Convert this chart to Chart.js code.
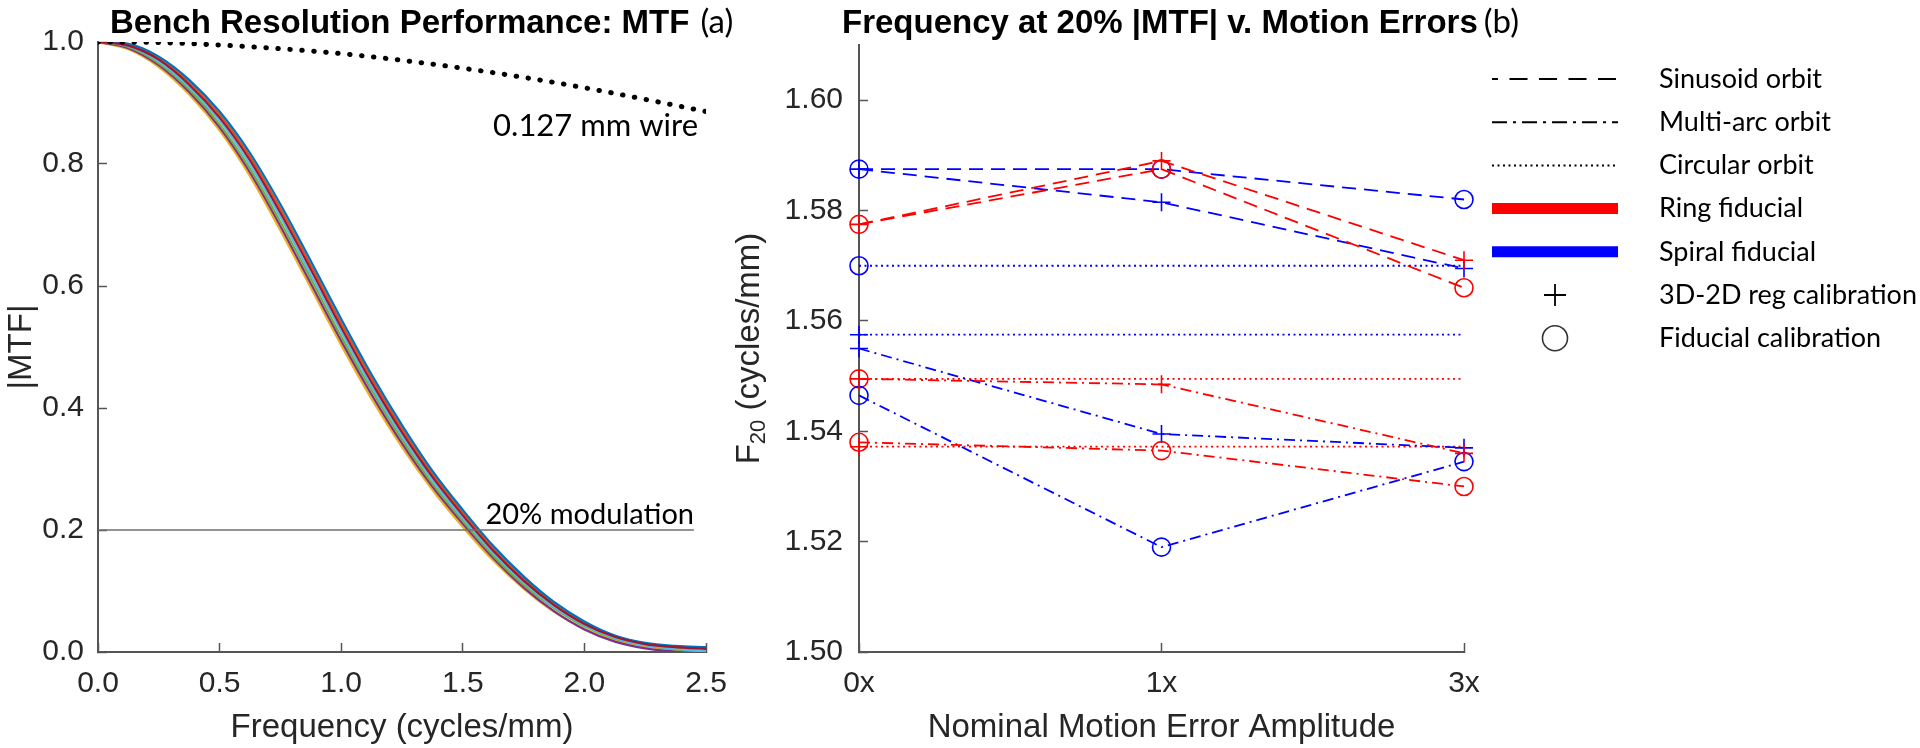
<!DOCTYPE html>
<html>
<head>
<meta charset="utf-8">
<title>Bench resolution: MTF and F20 v. motion errors</title>
<script src="https://cdn.jsdelivr.net/npm/chart.js@4.4.1/dist/chart.umd.min.js"></script>
<style>
  html, body { margin: 0; padding: 0; background: #fff; }
  #wrap { position: relative; width: 1920px; height: 748px; overflow: hidden; }
  canvas { position: absolute; left: 0; top: 0; }
</style>
</head>
<body>
<div id="wrap">
  <canvas id="mtfChart" width="1920" height="748"></canvas>
  <canvas id="f20Chart" width="1920" height="748"></canvas>
</div>
<script>
// ---------- panel (a): MTF curves ----------
var freq = [0, 0.125, 0.25, 0.375, 0.5, 0.625, 0.75, 0.875, 1.0, 1.125, 1.25,
            1.375, 1.5, 1.625, 1.75, 1.875, 2.0, 2.125, 2.25, 2.375, 2.5];
var mtfBlue   = [1.000, 0.997, 0.976, 0.938, 0.886, 0.818, 0.734, 0.641, 0.546, 0.455, 0.372,
                 0.297, 0.233, 0.174, 0.124, 0.082, 0.050, 0.027, 0.015, 0.010, 0.008];
var mtfOrange = [1.000, 0.996, 0.974, 0.934, 0.881, 0.812, 0.727, 0.634, 0.539, 0.449, 0.366,
                 0.292, 0.229, 0.170, 0.121, 0.080, 0.048, 0.026, 0.014, 0.008, 0.006];
var mtfRed    = [1.000, 0.994, 0.971, 0.930, 0.876, 0.806, 0.720, 0.627, 0.532, 0.442, 0.360,
                 0.287, 0.224, 0.166, 0.117, 0.077, 0.046, 0.025, 0.013, 0.008, 0.005];
var mtfCyan   = [1.000, 0.993, 0.968, 0.926, 0.871, 0.799, 0.713, 0.619, 0.525, 0.435, 0.354,
                 0.282, 0.219, 0.162, 0.114, 0.074, 0.044, 0.023, 0.011, 0.005, 0.001];
var mtfGreen  = [1.000, 0.992, 0.965, 0.922, 0.865, 0.792, 0.705, 0.612, 0.517, 0.429, 0.348,
                 0.276, 0.215, 0.158, 0.110, 0.072, 0.042, 0.022, 0.011, 0.004, 0.001];
var mtfPurple = [1.000, 0.990, 0.962, 0.918, 0.860, 0.786, 0.698, 0.604, 0.510, 0.422, 0.342,
                 0.271, 0.210, 0.154, 0.106, 0.067, 0.037, 0.017, 0.006, 0.001, 0.000];
var mtfYellow = [1.000, 0.988, 0.959, 0.914, 0.855, 0.780, 0.691, 0.597, 0.503, 0.415, 0.336,
                 0.266, 0.205, 0.150, 0.104, 0.066, 0.038, 0.020, 0.009, 0.004, 0.001];
var wireFreq  = [0, 0.25, 0.5, 0.75, 1.0, 1.25, 1.5, 1.75, 2.0, 2.25, 2.5];
var wireMtf   = [1.000, 0.999, 0.995, 0.989, 0.981, 0.970, 0.957, 0.942, 0.925, 0.906, 0.886];
var modFreq   = [0, 2.45];
var modLevel  = [0.2, 0.2];
var mtfTicks  = [0, 0.2, 0.4, 0.6, 0.8, 1.0];

// ---------- panel (b): F20 per motion amplitude ----------
var amplitudes    = ['0x', '1x', '3x'];
var sinRingReg    = [1.5775, 1.5890, 1.5710];
var sinRingFid    = [1.5775, 1.5875, 1.5660];
var sinSpiralReg  = [1.5875, 1.5815, 1.5695];
var sinSpiralFid  = [1.5875, 1.5875, 1.5820];
var arcRingReg    = [1.5495, 1.5485, 1.5360];
var arcRingFid    = [1.5380, 1.5365, 1.5300];
var arcSpiralReg  = [1.5550, 1.5395, 1.5370];
var arcSpiralFid  = [1.5465, 1.5190, 1.5345];
var circRingReg   = [1.5372, 1.5372, 1.5372];
var circRingFid   = [1.5495, 1.5495, 1.5495];
var circSpiralReg = [1.5575, 1.5575, 1.5575];
var circSpiralFid = [1.5700, 1.5700, 1.5700];
var legendLabels  = ['Sinusoid orbit', 'Multi-arc orbit', 'Circular orbit', 'Ring fiducial',
                     'Spiral fiducial', '3D-2D reg calibration', 'Fiducial calibration'];

var AXIS = '#555555';
var INK = '#262626';
var TICK_FONT = { family: 'Liberation Sans', size: 30 };
var LABEL_FONT = { family: 'Liberation Sans', size: 33 };
var NOTE_FONT = 'Lato';

Chart.defaults.font.family = 'Liberation Sans';
Chart.defaults.color = INK;

function xy(xs, ys) {
  return xs.map(function (x, i) { return { x: x, y: ys[i] }; });
}

function mtfCurve(values, color) {
  return {
    data: xy(freq, values),
    borderColor: color,
    borderWidth: 2.2,
    pointRadius: 0,
    cubicInterpolationMode: 'monotone',
    fill: false
  };
}

// pins the chart area to the pixel box of the original figure
function fixWidth(w) {
  return function (scale) { scale.width = w; scale.paddingTop = 0; scale.paddingBottom = 0; };
}
function fixHeight(h) {
  return function (scale) { scale.height = h; scale.paddingLeft = 0; scale.paddingRight = 0; };
}

function drawTitle(ctx, x, y, text, tag, gap) {
  ctx.save();
  ctx.fillStyle = '#000';
  ctx.textAlign = 'left';
  ctx.textBaseline = 'alphabetic';
  ctx.font = 'bold 33px "Liberation Sans"';
  ctx.fillText(text, x, y);
  var w = ctx.measureText(text).width;
  ctx.font = '33px ' + NOTE_FONT;
  ctx.fillText(tag, x + w + gap, y);
  ctx.restore();
}

var mtfNotes = {
  id: 'mtfNotes',
  afterDraw: function (chart) {
    var ctx = chart.ctx, area = chart.chartArea, ys = chart.scales.y;
    drawTitle(ctx, 110, 33, 'Bench Resolution Performance: MTF', '(a)', 11);
    ctx.save();
    ctx.fillStyle = '#000';
    ctx.textAlign = 'right';
    ctx.textBaseline = 'alphabetic';
    ctx.font = '31px ' + NOTE_FONT;
    ctx.fillText('0.127 mm wire', area.right - 8, ys.getPixelForValue(0.846));
    ctx.font = '29px ' + NOTE_FONT;
    ctx.fillText('20% modulation', area.right - 12, ys.getPixelForValue(0.2) - 6);
    ctx.restore();
  }
};

new Chart(document.getElementById('mtfChart'), {
  type: 'line',
  data: {
    datasets: [
      {
        data: xy(wireFreq, wireMtf),
        borderColor: '#000',
        borderWidth: 5,
        borderDash: [0.5, 11.5],
        borderCapStyle: 'round',
        pointRadius: 0,
        cubicInterpolationMode: 'monotone',
        fill: false
      },
      {
        data: xy(modFreq, modLevel),
        borderColor: '#6e6e6e',
        borderWidth: 1.5,
        pointRadius: 0,
        fill: false
      },
      mtfCurve(mtfRed, '#A2142F'),
      mtfCurve(mtfBlue, '#0072BD'),
      mtfCurve(mtfOrange, '#D95319'),
      mtfCurve(mtfCyan, '#4DBEEE'),
      mtfCurve(mtfGreen, '#77AC30'),
      mtfCurve(mtfPurple, '#7E2F8E'),
      mtfCurve(mtfYellow, '#EDB120')
    ]
  },
  options: {
    responsive: false,
    animation: false,
    devicePixelRatio: 1,
    events: [],
    layout: { padding: { left: 0, right: 1214, top: 42, bottom: 0 } },
    plugins: { legend: { display: false }, tooltip: { enabled: false } },
    scales: {
      x: {
        type: 'linear', min: 0, max: 2.5,
        afterFit: fixHeight(96),
        border: { color: AXIS, width: 2 },
        grid: { drawOnChartArea: false, tickLength: -9, color: AXIS, tickWidth: 1.5 },
        ticks: {
          stepSize: 0.5, padding: 23, font: TICK_FONT, color: INK, maxRotation: 0,
          callback: function (v) { return v.toFixed(1); }
        },
        title: { display: true, text: 'Frequency (cycles/mm)', font: LABEL_FONT, color: INK, padding: 0 }
      },
      y: {
        type: 'linear', min: 0, max: 1,
        afterFit: fixWidth(98),
        afterBuildTicks: function (scale) {
          scale.ticks = mtfTicks.map(function (v) { return { value: v }; });
        },
        border: { color: AXIS, width: 2 },
        grid: { drawOnChartArea: false, tickLength: -9, color: AXIS, tickWidth: 1.5 },
        ticks: {
          padding: 23, font: TICK_FONT, color: INK,
          callback: function (v) { return v.toFixed(1); }
        },
        title: { display: true, text: '|MTF|', font: LABEL_FONT, color: INK, padding: { top: 2, bottom: 0 } }
      }
    }
  },
  plugins: [mtfNotes]
});

// ---------- panel (b) ----------
var RED = '#FF0000', BLUE = '#0000FF';
var DASH = [14, 8], DASHDOT = [11, 5, 2, 5], DOT = [2, 3.5];

function f20Line(values, color, dash, marker, firstOnly) {
  return {
    data: values,
    borderColor: color,
    borderWidth: 1.8,
    borderDash: dash,
    pointStyle: marker,
    pointRadius: firstOnly ? [9, 0, 0] : 9,
    pointBorderWidth: 1.6,
    pointBorderColor: color,
    pointBackgroundColor: 'rgba(0,0,0,0)',
    tension: 0,
    fill: false
  };
}

function legendSample(ctx, i, y) {
  var x0 = 1492, x1 = 1618, xm = (x0 + x1) / 2;
  ctx.save();
  ctx.strokeStyle = '#000';
  ctx.lineWidth = 2;
  if (i < 3) {
    ctx.setLineDash([[18, 11.5], [15, 6, 3, 6], [2, 3.5]][i]);
    if (i === 0) ctx.lineDashOffset = 12;
    ctx.beginPath(); ctx.moveTo(x0, y); ctx.lineTo(x1, y); ctx.stroke();
  } else if (i < 5) {
    ctx.strokeStyle = i === 3 ? RED : BLUE;
    ctx.lineWidth = 11;
    ctx.beginPath(); ctx.moveTo(x0, y); ctx.lineTo(x1, y); ctx.stroke();
  } else if (i === 5) {
    ctx.lineWidth = 1.8;
    ctx.beginPath();
    ctx.moveTo(xm - 11, y); ctx.lineTo(xm + 11, y);
    ctx.moveTo(xm, y - 11); ctx.lineTo(xm, y + 11);
    ctx.stroke();
  } else {
    ctx.strokeStyle = '#333';
    ctx.lineWidth = 1.6;
    ctx.beginPath(); ctx.arc(xm, y, 12.5, 0, Math.PI * 2); ctx.stroke();
  }
  ctx.restore();
}

var f20Notes = {
  id: 'f20Notes',
  afterDraw: function (chart) {
    var ctx = chart.ctx, area = chart.chartArea;
    drawTitle(ctx, 842, 33, 'Frequency at 20% |MTF| v. Motion Errors', '(b)', 6);

    // rotated y title with subscript
    ctx.save();
    ctx.fillStyle = INK;
    ctx.translate(750, (area.top + area.bottom) / 2);
    ctx.rotate(-Math.PI / 2);
    ctx.textBaseline = 'middle';
    ctx.textAlign = 'left';
    var big = '33px "Liberation Sans"', small = '22px "Liberation Sans"';
    ctx.font = big; var wF = ctx.measureText('F').width, wRest = ctx.measureText(' (cycles/mm)').width;
    ctx.font = small; var wSub = ctx.measureText('20').width;
    var x = -(wF + wSub + wRest) / 2;
    ctx.font = big; ctx.fillText('F', x, 0);
    ctx.font = small; ctx.fillText('20', x + wF, 9);
    ctx.font = big; ctx.fillText(' (cycles/mm)', x + wF + wSub, 0);
    ctx.restore();

    // legend
    ctx.save();
    ctx.fillStyle = '#000';
    ctx.font = '27px ' + NOTE_FONT;
    ctx.textAlign = 'left';
    ctx.textBaseline = 'middle';
    for (var i = 0; i < legendLabels.length; i++) {
      var y = 79 + i * 43.2;
      legendSample(ctx, i, y);
      ctx.fillText(legendLabels[i], 1659, y);
    }
    ctx.restore();
  }
};

new Chart(document.getElementById('f20Chart'), {
  type: 'line',
  data: {
    labels: amplitudes,
    datasets: [
      f20Line(sinRingReg, RED, DASH, 'cross'),
      f20Line(sinRingFid, RED, DASH, 'circle'),
      f20Line(sinSpiralReg, BLUE, DASH, 'cross'),
      f20Line(sinSpiralFid, BLUE, DASH, 'circle'),
      f20Line(arcRingReg, RED, DASHDOT, 'cross'),
      f20Line(arcRingFid, RED, DASHDOT, 'circle'),
      f20Line(arcSpiralReg, BLUE, DASHDOT, 'cross'),
      f20Line(arcSpiralFid, BLUE, DASHDOT, 'circle'),
      f20Line(circRingReg, RED, DOT, 'cross', true),
      f20Line(circRingFid, RED, DOT, 'circle', true),
      f20Line(circSpiralReg, BLUE, DOT, 'cross', true),
      f20Line(circSpiralFid, BLUE, DOT, 'circle', true)
    ]
  },
  options: {
    responsive: false,
    animation: false,
    devicePixelRatio: 1,
    events: [],
    layout: { padding: { left: 0, right: 456, top: 45, bottom: 0 } },
    plugins: { legend: { display: false }, tooltip: { enabled: false } },
    scales: {
      x: {
        type: 'category', offset: false,
        afterFit: fixHeight(96),
        border: { color: AXIS, width: 2 },
        grid: { drawOnChartArea: false, tickLength: -9, color: AXIS, tickWidth: 1.5, offset: false },
        ticks: { padding: 23, font: TICK_FONT, color: INK, maxRotation: 0, autoSkip: false },
        title: { display: true, text: 'Nominal Motion Error Amplitude', font: LABEL_FONT, color: INK, padding: 0 }
      },
      y: {
        type: 'linear', min: 1.5, max: 1.61,
        afterFit: fixWidth(859),
        border: { color: AXIS, width: 2 },
        grid: { drawOnChartArea: false, tickLength: -9, color: AXIS, tickWidth: 1.5 },
        ticks: {
          stepSize: 0.02, includeBounds: false, padding: 25, font: TICK_FONT, color: INK,
          callback: function (v) { return v.toFixed(2); }
        },
        title: { display: false }
      }
    }
  },
  plugins: [f20Notes]
});
</script>
</body>
</html>
